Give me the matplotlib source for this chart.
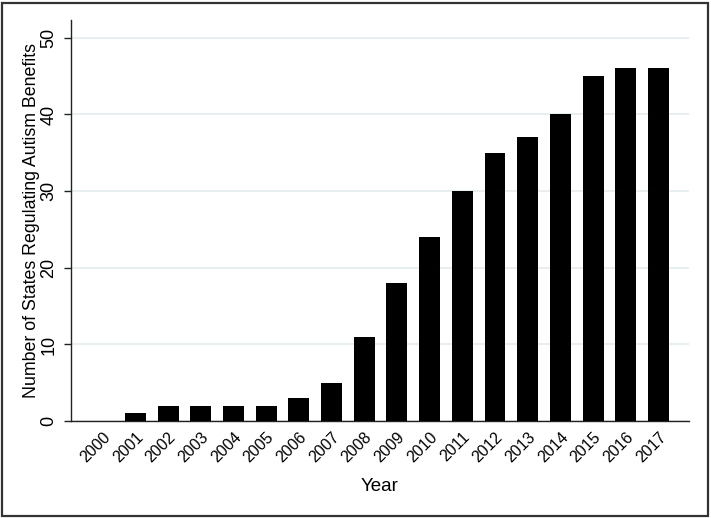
import matplotlib.pyplot as plt
from matplotlib.patches import Rectangle

plt.rcParams['font.family'] = ['Liberation Sans', 'DejaVu Sans']

# Data
years = ['2000', '2001', '2002', '2003', '2004', '2005', '2006', '2007', '2008',
         '2009', '2010', '2011', '2012', '2013', '2014', '2015', '2016', '2017']
states = [0, 1, 2, 2, 2, 2, 3, 5, 11, 18, 24, 30, 35, 37, 40, 45, 46, 46]
yticks = [0, 10, 20, 30, 40, 50]

fig = plt.figure(figsize=(7.11, 5.18), dpi=100)
ax = fig.add_axes([0.0999, 0.187, 0.869, 0.774])

x = list(range(len(years)))
ax.bar(x, states, width=0.64, color='black', zorder=3)

ax.set_xlim(-0.97, len(years) - 1 + 0.93)
ax.set_ylim(0, 52.3)

ax.set_yticks(yticks)
ax.set_yticklabels([str(t) for t in yticks], rotation=90, va='center', fontsize=13)
ax.tick_params(axis='y', length=5, width=1, color='#222222', pad=5)

ax.set_xticks(x)
ax.set_xticklabels(years, rotation=45, ha='right', rotation_mode='anchor', fontsize=11.5)
ax.tick_params(axis='x', length=0, pad=6)

ax.grid(axis='y', color='#e4ecee', linewidth=1.2, zorder=0)
for s in ['top', 'right']:
    ax.spines[s].set_visible(False)
for s in ['left', 'bottom']:
    ax.spines[s].set_color('#222222')
    ax.spines[s].set_linewidth(1)

ax.set_ylabel('Number of States Regulating Autism Benefits', fontsize=12.8, labelpad=0)
ax.set_xlabel('Year', fontsize=13.5, labelpad=9)

# outer frame around the whole graph
fig.patches.append(Rectangle((0.003, 0.004), 0.993, 0.991, transform=fig.transFigure,
                             fill=False, edgecolor='#333333', linewidth=1.6))

fig.savefig('out.png', dpi=100)
